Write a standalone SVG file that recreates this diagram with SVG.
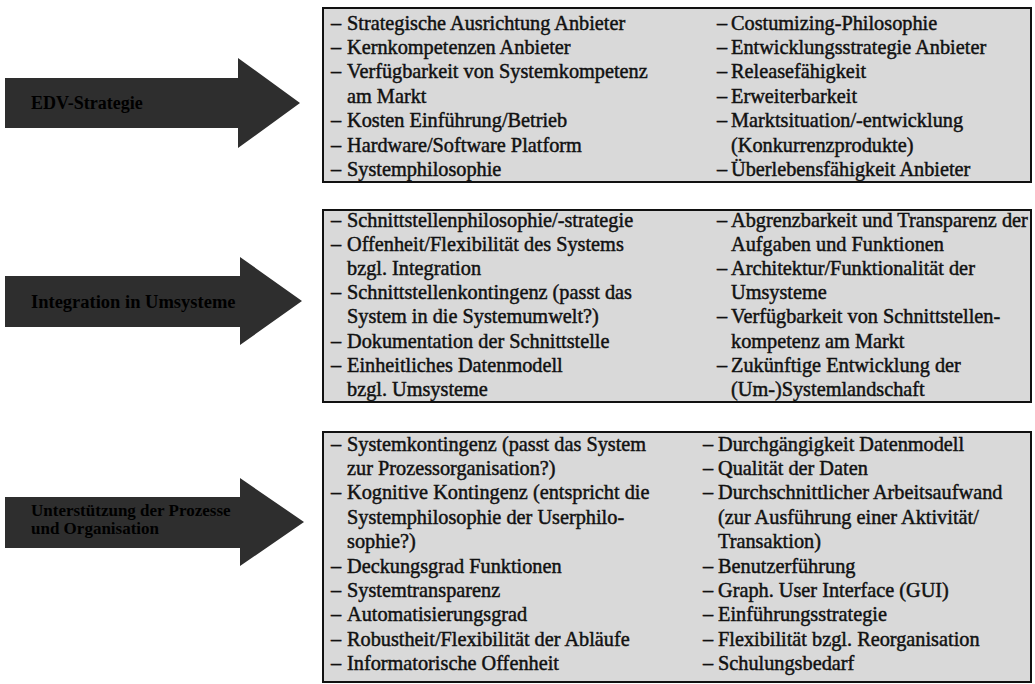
<svg xmlns="http://www.w3.org/2000/svg" width="1035" height="684" viewBox="0 0 1035 684">
<style>
.box{fill:#d9d9d9;stroke:#111;stroke-width:2}
.arrow{fill:#2e2e2e}
.t{font-family:"Liberation Serif","Times New Roman",serif;font-size:20.3px;fill:#111;stroke:#111;stroke-width:0.45}
.at{font-family:"Liberation Serif","Times New Roman",serif;font-weight:bold;fill:#000000}
</style>
<rect width="1035" height="684" fill="#ffffff"/>

<g id="arrow-edv">
<polygon class="arrow" points="5,78 238,78 238,58 300,103 238,148 238,128 5,128"/>
<text class="at" x="31" y="109" font-size="18">EDV-Strategie</text>
</g>
<g id="arrow-integration">
<polygon class="arrow" points="5,276 240,276 240,257 302,301 240,345 240,327 5,327"/>
<text class="at" x="31" y="308" font-size="18.5">Integration in Umsysteme</text>
</g>
<g id="arrow-prozesse">
<polygon class="arrow" points="5,497 240,497 240,478 304,522 240,566 240,548 5,548"/>
<text class="at" font-size="17"><tspan x="31" y="516">Unterstützung der Prozesse</tspan><tspan x="31" y="534">und Organisation</tspan></text>
</g>

<g id="box-edv">
<rect class="box" x="323" y="8" width="708" height="174"/>
<text class="t"><tspan x="331" y="29.5">–</tspan><tspan x="347">Strategische Ausrichtung Anbieter</tspan></text>
<text class="t"><tspan x="331" y="53.9">–</tspan><tspan x="347">Kernkompetenzen Anbieter</tspan></text>
<text class="t"><tspan x="331" y="78.3">–</tspan><tspan x="347">Verfügbarkeit von Systemkompetenz</tspan></text>
<text class="t" x="347" y="102.7">am Markt</text>
<text class="t"><tspan x="331" y="127.1">–</tspan><tspan x="347">Kosten Einführung/Betrieb</tspan></text>
<text class="t"><tspan x="331" y="151.5">–</tspan><tspan x="347">Hardware/Software Platform</tspan></text>
<text class="t"><tspan x="331" y="175.9">–</tspan><tspan x="347">Systemphilosophie</tspan></text>
<text class="t"><tspan x="717" y="29.5">–</tspan><tspan x="731">Costumizing-Philosophie</tspan></text>
<text class="t"><tspan x="717" y="53.9">–</tspan><tspan x="731">Entwicklungsstrategie Anbieter</tspan></text>
<text class="t"><tspan x="717" y="78.3">–</tspan><tspan x="731">Releasefähigkeit</tspan></text>
<text class="t"><tspan x="717" y="102.7">–</tspan><tspan x="731">Erweiterbarkeit</tspan></text>
<text class="t"><tspan x="717" y="127.1">–</tspan><tspan x="731">Marktsituation/-entwicklung</tspan></text>
<text class="t" x="731" y="151.5">(Konkurrenzprodukte)</text>
<text class="t"><tspan x="717" y="175.9">–</tspan><tspan x="731">Überlebensfähigkeit Anbieter</tspan></text>
</g>

<g id="box-integration">
<rect class="box" x="323" y="210" width="708" height="192"/>
<text class="t"><tspan x="331" y="226.5">–</tspan><tspan x="347">Schnittstellenphilosophie/-strategie</tspan></text>
<text class="t"><tspan x="331" y="250.7">–</tspan><tspan x="347">Offenheit/Flexibilität des Systems</tspan></text>
<text class="t" x="347" y="274.9">bzgl. Integration</text>
<text class="t"><tspan x="331" y="299.1">–</tspan><tspan x="347">Schnittstellenkontingenz (passt das</tspan></text>
<text class="t" x="347" y="323.3">System in die Systemumwelt?)</text>
<text class="t"><tspan x="331" y="347.5">–</tspan><tspan x="347">Dokumentation der Schnittstelle</tspan></text>
<text class="t"><tspan x="331" y="371.7">–</tspan><tspan x="347">Einheitliches Datenmodell</tspan></text>
<text class="t" x="347" y="395.9">bzgl. Umsysteme</text>
<text class="t"><tspan x="717" y="226.5">–</tspan><tspan x="731">Abgrenzbarkeit und Transparenz der</tspan></text>
<text class="t" x="731" y="250.7">Aufgaben und Funktionen</text>
<text class="t"><tspan x="717" y="274.9">–</tspan><tspan x="731">Architektur/Funktionalität der</tspan></text>
<text class="t" x="731" y="299.1">Umsysteme</text>
<text class="t"><tspan x="717" y="323.3">–</tspan><tspan x="731">Verfügbarkeit von Schnittstellen-</tspan></text>
<text class="t" x="731" y="347.5">kompetenz am Markt</text>
<text class="t"><tspan x="717" y="371.7">–</tspan><tspan x="731">Zukünftige Entwicklung der</tspan></text>
<text class="t" x="731" y="395.9">(Um-)Systemlandschaft</text>
</g>

<g id="box-prozesse">
<rect class="box" x="323" y="432" width="708" height="250"/>
<text class="t"><tspan x="331" y="450.5">–</tspan><tspan x="347">Systemkontingenz (passt das System</tspan></text>
<text class="t" x="347" y="474.9">zur Prozessorganisation?)</text>
<text class="t"><tspan x="331" y="499.3">–</tspan><tspan x="347">Kognitive Kontingenz (entspricht die</tspan></text>
<text class="t" x="347" y="523.7">Systemphilosophie der Userphilo-</text>
<text class="t" x="347" y="548.1">sophie?)</text>
<text class="t"><tspan x="331" y="572.5">–</tspan><tspan x="347">Deckungsgrad Funktionen</tspan></text>
<text class="t"><tspan x="331" y="596.9">–</tspan><tspan x="347">Systemtransparenz</tspan></text>
<text class="t"><tspan x="331" y="621.3">–</tspan><tspan x="347">Automatisierungsgrad</tspan></text>
<text class="t"><tspan x="331" y="645.7">–</tspan><tspan x="347">Robustheit/Flexibilität der Abläufe</tspan></text>
<text class="t"><tspan x="331" y="670.1">–</tspan><tspan x="347">Informatorische Offenheit</tspan></text>
<text class="t"><tspan x="703" y="450.5">–</tspan><tspan x="718">Durchgängigkeit Datenmodell</tspan></text>
<text class="t"><tspan x="703" y="474.9">–</tspan><tspan x="718">Qualität der Daten</tspan></text>
<text class="t"><tspan x="703" y="499.3">–</tspan><tspan x="718">Durchschnittlicher Arbeitsaufwand</tspan></text>
<text class="t" x="718" y="523.7">(zur Ausführung einer Aktivität/</text>
<text class="t" x="718" y="548.1">Transaktion)</text>
<text class="t"><tspan x="703" y="572.5">–</tspan><tspan x="718">Benutzerführung</tspan></text>
<text class="t"><tspan x="703" y="596.9">–</tspan><tspan x="718">Graph. User Interface (GUI)</tspan></text>
<text class="t"><tspan x="703" y="621.3">–</tspan><tspan x="718">Einführungsstrategie</tspan></text>
<text class="t"><tspan x="703" y="645.7">–</tspan><tspan x="718">Flexibilität bzgl. Reorganisation</tspan></text>
<text class="t"><tspan x="703" y="670.1">–</tspan><tspan x="718">Schulungsbedarf</tspan></text>
</g>
</svg>
